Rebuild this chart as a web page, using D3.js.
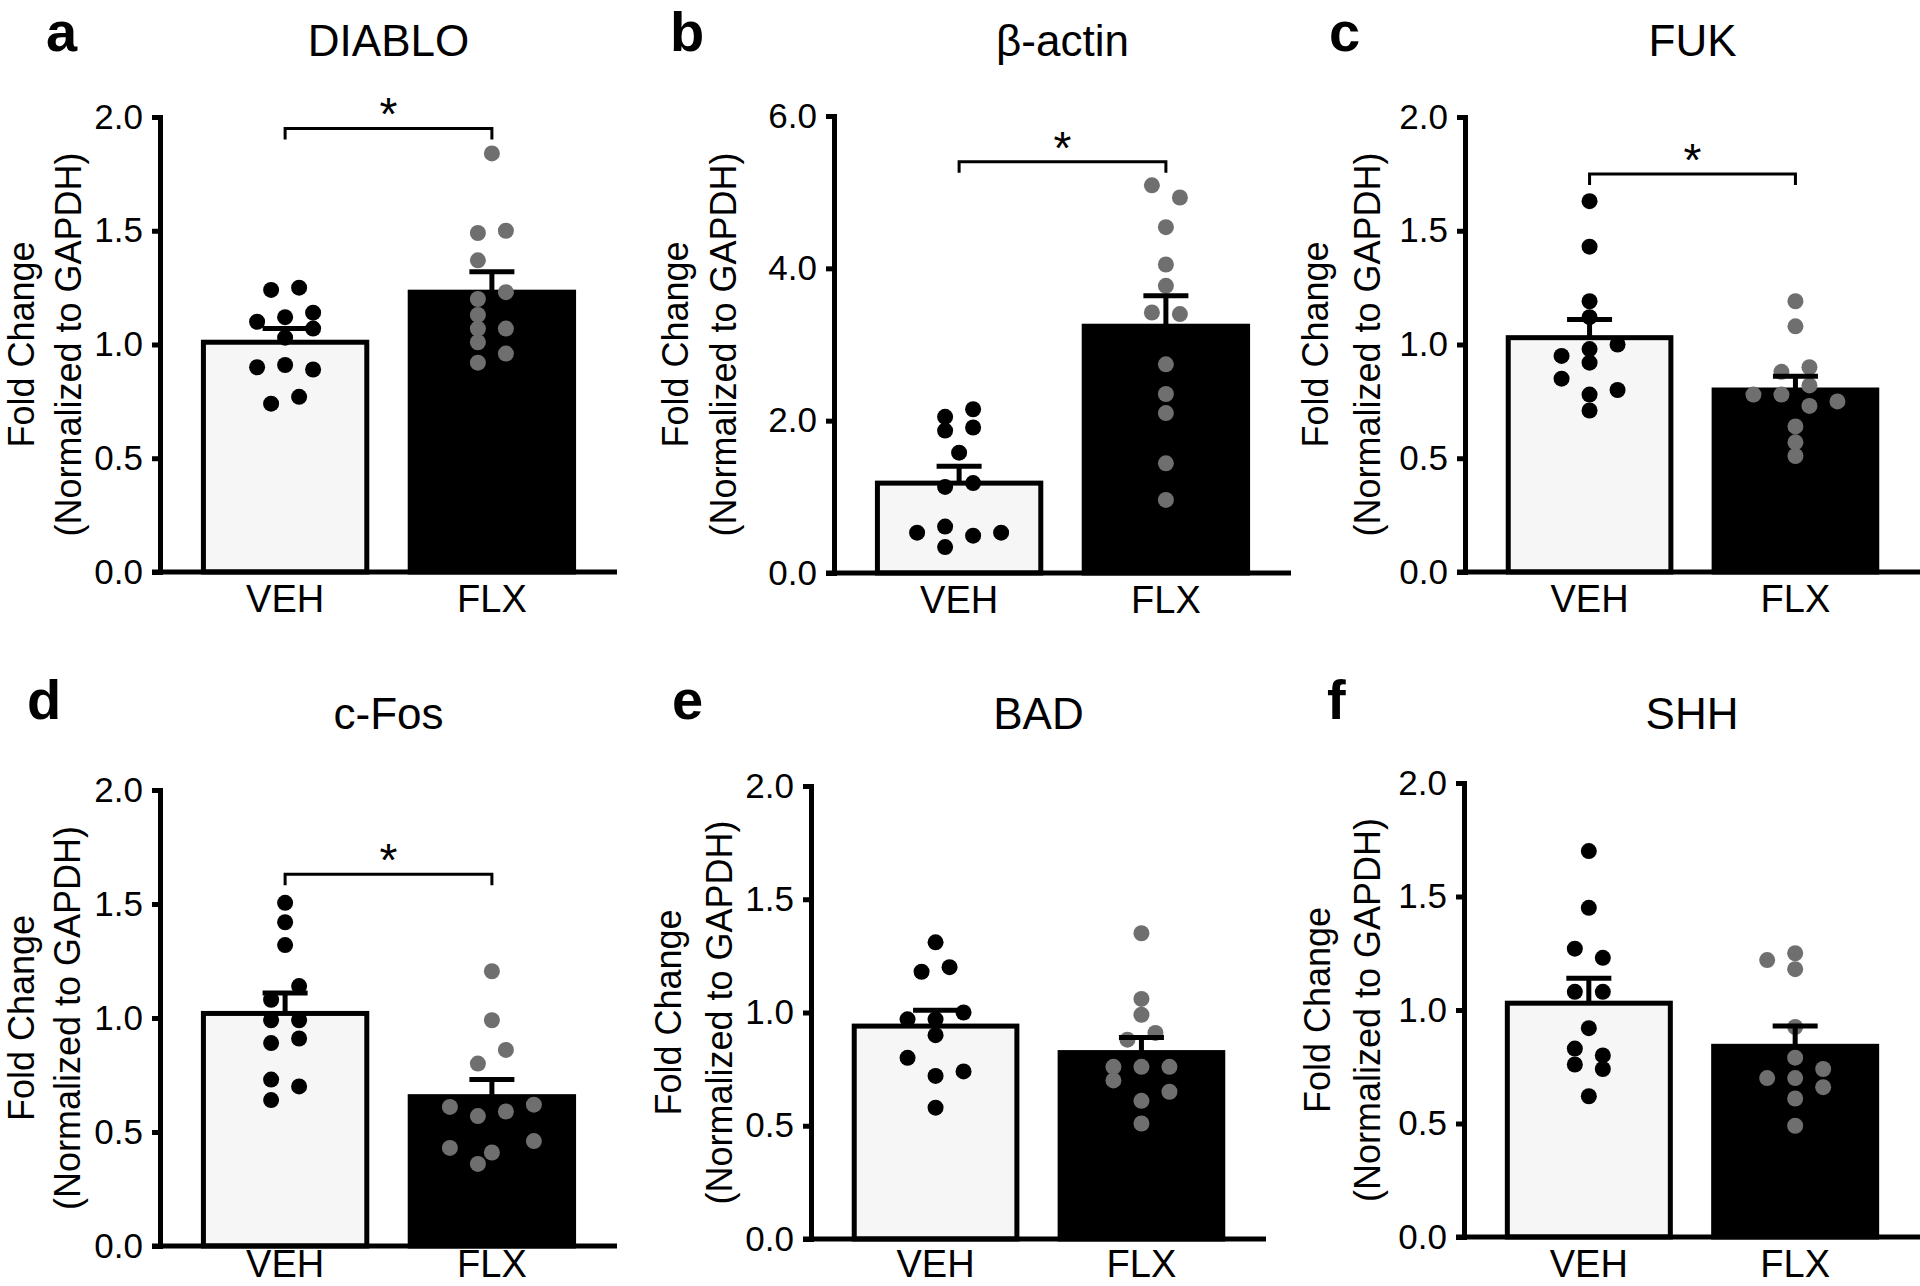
<!DOCTYPE html>
<html>
<head>
<meta charset="utf-8">
<script src="https://cdn.jsdelivr.net/npm/d3@7"></script>
<style>
  html, body { margin: 0; padding: 0; background: #fff; }
  svg { display: block; font-family: "Liberation Sans", Arial, Helvetica, sans-serif; }
</style>
</head>
<body>
<svg id="chart" width="1920" height="1286"></svg>
<script>
// ---------------- DATA ----------------
const panelLetters = ["a", "b", "c", "d", "e", "f"];
const genes = ["DIABLO", "β-actin", "FUK", "c-Fos", "BAD", "SHH"];
const groups = ["VEH", "FLX"];
const yMax = [2, 6, 2, 2, 2, 2];
const yTicks2 = [0, 0.5, 1.0, 1.5, 2.0];
const yTicks6 = [0, 2.0, 4.0, 6.0];
const yLabelLines = ["Fold Change", "(Normalized to GAPDH)"];

const vehMean = [1.01, 1.18, 1.03, 1.02, 0.94, 1.03];
const vehSem  = [0.06, 0.22, 0.08, 0.09, 0.07, 0.11];
const flxMean = [1.23, 3.24, 0.80, 0.655, 0.823, 0.84];
const flxSem  = [0.09, 0.40, 0.06, 0.075, 0.067, 0.09];

// significance bracket height (data units) per panel; null = none
const sigBracket = [1.95, 5.40, 1.75, 1.63, null, null];
const sigLabel = ["*", "*", "*", "*", "", ""];

// individual points: [value, column slot]
const diabloVEH = [[1.24,-1],[1.25,1],[1.10,-2],[1.12,0],[1.14,2],[1.07,2],[1.03,0],[0.90,-2],[0.91,0],[0.89,2],[0.74,-1],[0.77,1]];
const diabloFLX = [[1.84,0],[1.49,-1],[1.50,1],[1.37,-1],[1.23,1],[1.20,-1],[1.13,-1],[1.07,-1],[1.07,1],[1.01,-1],[0.96,1],[0.92,-1]];
const actinVEH  = [[2.05,-1],[2.15,1],[1.87,-1],[1.91,1],[1.58,0],[1.13,-1],[1.18,1],[0.53,-3],[0.61,-1],[0.49,1],[0.53,3],[0.34,-1]];
const actinFLX  = [[5.09,-1],[4.93,1],[4.54,0],[4.05,0],[3.77,0],[3.42,-1],[3.40,1],[2.74,0],[2.35,0],[2.10,0],[1.44,0],[0.96,0]];
const fukVEH    = [[1.63,0],[1.43,0],[1.19,0],[1.12,0],[1.00,2],[0.98,0],[0.95,-2],[0.92,0],[0.85,-2],[0.80,2],[0.78,0],[0.71,0]];
const fukFLX    = [[1.19,0],[1.08,0],[0.90,1],[0.88,-1],[0.82,1],[0.78,-3],[0.78,-1],[0.75,3],[0.73,1],[0.64,0],[0.57,0],[0.51,0]];
const cfosVEH   = [[1.505,0],[1.42,0],[1.32,0],[1.14,1],[1.08,-1],[0.99,-1],[0.99,1],[0.89,-1],[0.91,1],[0.73,-1],[0.70,1],[0.64,-1]];
const cfosFLX   = [[1.205,0],[0.99,0],[0.86,1],[0.80,-1],[0.61,-3],[0.59,1],[0.62,3],[0.57,-1],[0.46,3],[0.43,-3],[0.41,0],[0.36,-1]];
const badVEH    = [[1.31,0],[1.18,-1],[1.20,1],[1.00,2],[0.97,-2],[0.97,0],[0.90,0],[0.80,-2],[0.74,2],[0.72,0],[0.58,0]];
const badFLX    = [[1.35,0],[1.06,0],[0.99,0],[0.91,1],[0.88,-1],[0.76,-2],[0.76,0],[0.76,2],[0.70,-2],[0.65,2],[0.61,0],[0.51,0]];
const shhVEH    = [[1.70,0],[1.45,0],[1.27,-1],[1.23,1],[1.08,-1],[1.08,1],[0.92,0],[0.83,-1],[0.80,1],[0.76,-1],[0.74,1],[0.62,0]];
const shhFLX    = [[1.22,-2],[1.25,0],[1.18,0],[0.925,0],[0.79,0],[0.74,2],[0.70,-2],[0.70,0],[0.66,2],[0.61,0],[0.49,0]];

const vehPoints = [diabloVEH, actinVEH, fukVEH, cfosVEH, badVEH, shhVEH];
const flxPoints = [diabloFLX, actinFLX, fukFLX, cfosFLX, badFLX, shhFLX];

// ---------------- LAYOUT ----------------
const layout = [
  {x0: 160,  top: 117, bottom: 572,  xEnd: 617,  letter: [46, 51],    titleY: 56,  ylab: [126, 79]},
  {x0: 834,  top: 116, bottom: 573,  xEnd: 1291, letter: [670, 51],   titleY: 56,  ylab: [146, 98]},
  {x0: 1465, top: 117, bottom: 572,  xEnd: 1920, letter: [1329, 51],  titleY: 56,  ylab: [137, 85]},
  {x0: 160,  top: 790, bottom: 1246, xEnd: 617,  letter: [27, 719],   titleY: 729, ylab: [126, 80]},
  {x0: 811,  top: 786, bottom: 1239, xEnd: 1266, letter: [672, 719],  titleY: 729, ylab: [130, 79]},
  {x0: 1464, top: 783, bottom: 1237, xEnd: 1920, letter: [1327, 719], titleY: 729, ylab: [134, 84]}
];

const H = 1286;
const LW = 5;          // main line width
const slotPx = 14;     // horizontal spacing of point columns
const dotR = 8;
const vehFill = "#f6f6f6";
const flxFill = "#000000";
const vehDot = "#000000";
const flxDot = "#6f6f6f";
const catFont = 38;

const svg = d3.select("#chart");

layout.forEach((L, i) => {
  const g = svg.append("g");
  const y = d3.scaleLinear().domain([0, yMax[i]]).range([L.bottom, L.top]);
  const x = d3.scaleBand().domain(groups).range([L.x0, L.xEnd]).paddingInner(0.21).paddingOuter(0.21);

  // panel letter
  g.append("text").attr("x", L.letter[0]).attr("y", L.letter[1])
    .attr("font-size", 56).attr("font-weight", "bold").text(panelLetters[i]);

  // title
  g.append("text").attr("x", (L.x0 + L.xEnd) / 2).attr("y", L.titleY)
    .attr("text-anchor", "middle").attr("font-size", 44).text(genes[i]);

  // y label
  const cy = (L.top + L.bottom) / 2;
  yLabelLines.forEach((t, k) => {
    const bx = L.x0 - L.ylab[k];
    g.append("text").attr("x", bx).attr("y", cy)
      .attr("transform", `rotate(-90,${bx},${cy})`)
      .attr("text-anchor", "middle").attr("font-size", 36).text(t);
  });

  // bars
  const means = [vehMean[i], flxMean[i]];
  const sems = [vehSem[i], flxSem[i]];
  g.selectAll("rect.bar").data(groups).join("rect")
    .attr("x", d => x(d))
    .attr("y", (d, j) => y(means[j]))
    .attr("width", x.bandwidth())
    .attr("height", (d, j) => y(0) - y(means[j]))
    .attr("fill", (d, j) => j === 0 ? vehFill : flxFill)
    .attr("stroke", "#000").attr("stroke-width", LW);

  // points
  const pts = [];
  vehPoints[i].forEach(p => pts.push({g: "VEH", v: p[0], s: p[1]}));
  flxPoints[i].forEach(p => pts.push({g: "FLX", v: p[0], s: p[1]}));
  g.selectAll("circle.pt").data(pts).join("circle")
    .attr("cx", d => x(d.g) + x.bandwidth() / 2 + d.s * slotPx)
    .attr("cy", d => y(d.v))
    .attr("r", dotR)
    .attr("fill", d => d.g === "VEH" ? vehDot : flxDot);

  // error bars (upper SEM only)
  groups.forEach((gr, j) => {
    const cx = x(gr) + x.bandwidth() / 2;
    g.append("line").attr("x1", cx).attr("x2", cx)
      .attr("y1", y(means[j])).attr("y2", y(means[j] + sems[j]))
      .attr("stroke", "#000").attr("stroke-width", LW);
    g.append("line").attr("x1", cx - 22.5).attr("x2", cx + 22.5)
      .attr("y1", y(means[j] + sems[j])).attr("y2", y(means[j] + sems[j]))
      .attr("stroke", "#000").attr("stroke-width", LW);
  });

  // y axis
  const ticks = yMax[i] === 6 ? yTicks6 : yTicks2;
  const yAxis = d3.axisLeft(y).tickValues(ticks).tickFormat(d3.format(".1f"))
    .tickSize(8).tickPadding(9).tickSizeOuter(0);
  const ya = g.append("g").attr("transform", `translate(${L.x0},0)`).call(yAxis);
  ya.select(".domain").attr("stroke-width", LW).attr("stroke-linecap", "square");
  ya.selectAll(".tick line").attr("stroke-width", LW);
  ya.selectAll(".tick text").attr("font-size", 35).attr("fill", "#000")
    .attr("font-family", "Liberation Sans, Arial, sans-serif");

  // x axis (category labels), kept inside the page
  const labelBase = Math.min(L.bottom + 40, H - Math.ceil(0.22 * catFont));
  const pad = labelBase - L.bottom - 0.71 * catFont;
  const xAxis = d3.axisBottom(x).tickSize(0).tickPadding(pad).tickSizeOuter(0);
  const xa = g.append("g").attr("transform", `translate(0,${L.bottom})`).call(xAxis);
  xa.select(".domain").remove();
  xa.selectAll(".tick text").attr("font-size", catFont).attr("fill", "#000")
    .attr("font-family", "Liberation Sans, Arial, sans-serif");
  g.append("line").attr("x1", L.x0 - 8).attr("x2", L.xEnd)
    .attr("y1", L.bottom).attr("y2", L.bottom)
    .attr("stroke", "#000").attr("stroke-width", LW);

  // significance bracket
  if (sigBracket[i] !== null) {
    const xa1 = x("VEH") + x.bandwidth() / 2;
    const xa2 = x("FLX") + x.bandwidth() / 2;
    const by = y(sigBracket[i]);
    g.append("path")
      .attr("d", `M${xa1},${by + 11}V${by}H${xa2}V${by + 11}`)
      .attr("fill", "none").attr("stroke", "#000").attr("stroke-width", 3);
    g.append("text").attr("x", (xa1 + xa2) / 2).attr("y", by + 2)
      .attr("text-anchor", "middle").attr("font-size", 46).text(sigLabel[i]);
  }
});
</script>
</body>
</html>
